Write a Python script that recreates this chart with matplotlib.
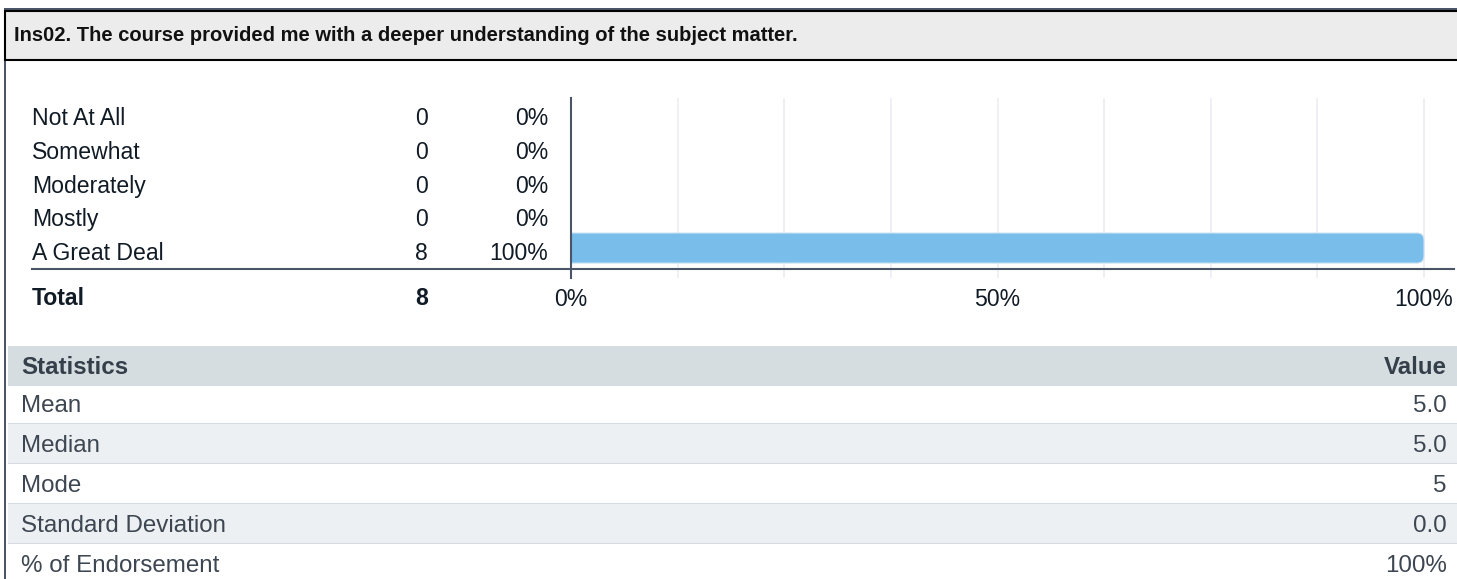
import matplotlib
matplotlib.use('Agg')
import numpy as np
import matplotlib.pyplot as plt
from matplotlib.patches import Rectangle, FancyBboxPatch

plt.rcParams['font.family'] = ['Liberation Sans', 'DejaVu Sans']

# data
title = 'Ins02. The course provided me with a deeper understanding of the subject matter.'
categories = ['Not At All', 'Somewhat', 'Moderately', 'Mostly', 'A Great Deal']
counts = [0, 0, 0, 0, 8]
percents = [0, 0, 0, 0, 100]
total = 8
x_ticks = [0, 50, 100]
x_tick_labels = ['0%', '50%', '100%']
stat_names = ['Mean', 'Median', 'Mode', 'Standard Deviation', '% of Endorsement']
stat_values = ['5.0', '5.0', '5', '0.0', '100%']

W, H = 1457, 579
fig = plt.figure(figsize=(W / 100, H / 100), dpi=100)

SLATE = '#4a5568'
TEXT = '#111b26'
STAT_TEXT = '#3d4651'
FS = 16.6


def fx(x):
    return x / W


def fy(y):
    return 1 - y / H


def box(x0, y0, x1, y1, **kw):
    fig.add_artist(Rectangle((fx(x0), fy(y1)), fx(x1) - fx(x0), fy(y0) - fy(y1),
                             transform=fig.transFigure, **kw))


# header strip
box(4, 8, W, 10, facecolor=SLATE, linewidth=0)
box(5, 11, W + 5, 60, facecolor='#ececec', edgecolor='black', linewidth=1.5)
box(4, 61, 6, H + 2, facecolor=SLATE, linewidth=0)
fig.text(fx(14), fy(35.5), title, fontsize=14.5, fontweight='bold', color='#111111',
         ha='left', va='center')

# bar chart part
ax = fig.add_axes([fx(32), fy(269), fx(1454) - fx(32), fy(98) - fy(269)])
px_x = (1424 - 571) / 100.0      # pixels per percent
px_y = 33.75                      # pixels per row
ax.set_xlim(-(571 - 32) / px_x, 100 + (1454 - 1424) / px_x)
ax.set_ylim(-0.5, 4.56)

pos = np.arange(len(categories))[::-1]
bars = ax.barh(pos + 0.12, percents, height=0.89, color='none', linewidth=0)
r = 7 / px_x
clip = Rectangle((0, -5), 200, 20, transform=ax.transData)
for b in bars:
    if b.get_width() <= 0:
        continue
    p = FancyBboxPatch((b.get_x() - r, b.get_y()), b.get_width() + r, b.get_height(),
                       boxstyle='round,pad=0,rounding_size=%f' % r,
                       mutation_aspect=px_x / px_y,
                       facecolor='#79bdea', edgecolor='#cfe4f3', linewidth=0.8, zorder=3)
    ax.add_patch(p)
    p.set_clip_path(clip)

for s in ['top', 'right', 'left']:
    ax.spines[s].set_visible(False)
ax.spines['bottom'].set_color(SLATE)
ax.spines['bottom'].set_linewidth(1.5)
ax.spines['bottom'].set_zorder(4)

ax.set_xticks(x_ticks)
ax.set_xticklabels(x_tick_labels, fontsize=FS, color=TEXT)
ax.set_xticks(np.arange(0, 101, 12.5), minor=True)
ax.tick_params(axis='x', which='both', length=6.5, width=1.1, color='#ebebf2', pad=7)
ax.set_yticks([])
ax.grid(axis='x', which='both', color='#ebebf2', linewidth=1.1, zorder=0)
ax.set_axisbelow(True)
ax.axvline(0, ymin=-9 / 171, ymax=1, color=SLATE, linewidth=1.5, clip_on=False, zorder=5)

ty = ax.get_yaxis_transform()
base = 8 / px_y
cnt_x = (428 - 32) / 1422
pct_x = (548 - 32) / 1422
for y, name, c, p in zip(pos, categories, counts, percents):
    ax.text(0, y - base, name, transform=ty, fontsize=FS, color=TEXT, ha='left', va='baseline')
    ax.text(cnt_x, y - base, str(c), transform=ty, fontsize=FS, color=TEXT, ha='right', va='baseline')
    ax.text(pct_x, y - base, '%d%%' % p, transform=ty, fontsize=FS, color=TEXT, ha='right', va='baseline')
ty_total = -0.5 - (297 - 269) / px_y - base
ax.text(0, ty_total, 'Total', transform=ty, fontsize=FS, fontweight='bold', color=TEXT,
        ha='left', va='baseline', clip_on=False)
ax.text(cnt_x, ty_total, str(total), transform=ty, fontsize=FS, fontweight='bold', color=TEXT,
        ha='right', va='baseline', clip_on=False)

# statistics table
for i, (name, val) in enumerate(zip(stat_names, stat_values)):
    top = 384 + 40 * i
    bg = '#ecf0f3' if i % 2 else 'white'
    box(8, top, W, top + 40, facecolor=bg, linewidth=0)
    if i < len(stat_names) - 1:
        box(8, top + 39, W, top + 41, facecolor='#d5dbe0', linewidth=0)
    yc = top + 20 + 8.5
    fig.text(fx(21), fy(yc), name, fontsize=17.4, color=STAT_TEXT, ha='left', va='baseline')
    fig.text(fx(1447), fy(yc), val, fontsize=17.4, color=STAT_TEXT, ha='right', va='baseline')

box(8, 346, W, 386, facecolor='#d6dde1', linewidth=0)
fig.text(fx(21), fy(366 + 8.5), 'Statistics', fontsize=17.4, fontweight='bold', color='#353f4a',
         ha='left', va='baseline')
fig.text(fx(1447), fy(366 + 8.5), 'Value', fontsize=17.4, fontweight='bold', color='#353f4a',
         ha='right', va='baseline')

fig.savefig('out.png', dpi=100)
